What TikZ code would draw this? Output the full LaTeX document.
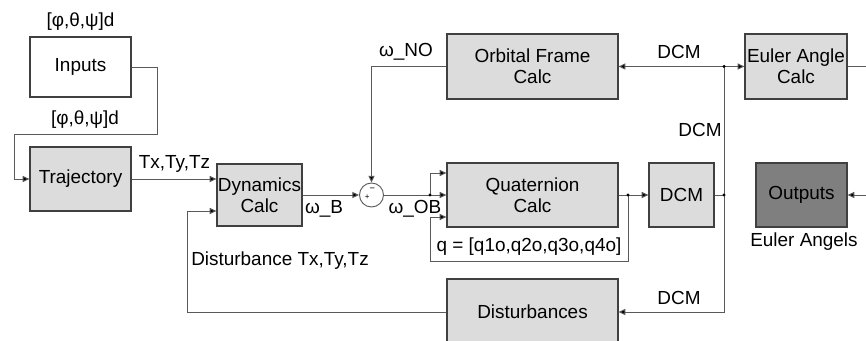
\documentclass[tikz,border=0pt]{standalone}
\usepackage{fontspec}
\setmainfont{Liberation Sans}
\usetikzlibrary{arrows.meta,shadows}
\definecolor{boxgray}{HTML}{DCDCDC}
\definecolor{outgray}{HTML}{7F7F7F}
\definecolor{linegray}{HTML}{5A5A5A}
\definecolor{bordergray}{HTML}{404040}
\begin{document}
\begin{tikzpicture}[x=0.75pt,y=-0.75pt,
  blk/.style={draw=bordergray, line width=0.9pt, fill=boxgray, inner sep=0pt, align=center,
    font=\fontsize{14.2}{15.5}\selectfont,
    drop shadow={shadow xshift=0.9pt,shadow yshift=-0.9pt,fill=black!45,opacity=1}},
  sz/.style 2 args={minimum width=#1*0.75pt, minimum height=#2*0.75pt},
  wire/.style={draw=linegray, line width=0.7pt},
  arr/.style={wire, -{Triangle[length=5pt,width=4.5pt,fill=black]}},
  lbl/.style={font=\fontsize{14.2}{15.5}\selectfont, inner sep=0pt},
  jdot/.style={circle, fill=black, inner sep=0pt, minimum size=2.6pt}
]
\useasboundingbox (0,0) rectangle (866,341);
\clip (0,0) rectangle (866,341);
\fill[white] (0,0) rectangle (866,341);

% blocks
\node[blk, fill=white, sz={101}{60}] (inputs) at (80.5,67) {Inputs};
\node[blk, sz={101}{64}] (traj) at (80.5,179) {Trajectory};
\node[blk, sz={85}{62}] (dyn) at (259.5,195) {Dynamics\\Calc};
\node[circle, draw=linegray, line width=0.7pt, fill=white, minimum size=18pt, inner sep=0pt] (sum) at (371.5,195) {};
\node[blk, sz={171}{65}] (orb) at (532.5,66.5) {Orbital Frame\\Calc};
\node[blk, sz={171}{64}] (quat) at (532.5,195) {Quaternion\\Calc};
\node[blk, sz={65}{64}] (dcm) at (681.5,195) {DCM};
\node[blk, sz={102}{65}] (euler) at (796,66.5) {Euler Angle\\Calc};
\node[blk, fill=outgray, sz={91}{64}] (outp) at (801.5,195) {Outputs};
\node[blk, sz={171}{66}] (dist) at (532.5,312) {Disturbances};

% sum signs
\node[inner sep=0pt, font=\fontsize{6}{6}\selectfont] (sp) at (367.3,197.5) {+};
\node[inner sep=0pt, font=\fontsize{7}{7}\selectfont] (sm) at (372.3,189.5) {−};

% junctions
\coordinate (j1) at (430,195);
\coordinate (j2) at (628,195);
\coordinate (j3) at (724,195);
\coordinate (j4) at (724,66.5);
\coordinate (e1) at (875,66.5);
\coordinate (e2) at (875,195);

% wires
\draw[arr] (inputs.east) -- ++(26,0) |- (14,134) |- (traj.west);
\draw[arr] (traj.east) -- (traj.east -| dyn.west);
\draw[arr] (dyn.east) -- (sum.west);
\draw[arr] (orb.west) -| (sum.north);
\draw[arr] (sum.east) -- (quat.west);
\draw[arr] (j1) |- (quat.west |- 0,173);
\draw[arr] (quat.east) -- (dcm.west);
\draw[arr] (j2) |- (430,261) |- (quat.west |- 0,217);
\draw[wire] (dcm.east) -- (j3);
\draw[arr] (j4) |- (dist.east);
\draw[arr] (j4) -- (orb.east);
\draw[arr] (j4) -- (euler.west);
\draw[wire] (euler.east) -- (e1);
\draw[arr] (e2) -- (outp.east);
\draw[arr] (dist.west) -| (187,211) -- (dyn.west |- 0,211);

\node[jdot] at (j1) {};
\node[jdot] at (j2) {};
\node[jdot] at (j3) {};
\node[jdot] at (j4) {};

% labels
\node[lbl] (l1) at (80.5,22) {[φ,θ,ψ]d};
\node[lbl] (l2) at (85,120) {[φ,θ,ψ]d};
\node[lbl] (l3) at (174.5,164) {Tx,Ty,Tz};
\node[lbl] (l4) at (324,209) {ω\_B};
\node[lbl] (l5) at (406,52) {ω\_NO};
\node[lbl] (l6) at (415,209) {ω\_OB};
\node[lbl] (l7) at (280,261) {Disturbance Tx,Ty,Tz};
\node[lbl] (l8) at (529,247) {q = [q1o,q2o,q3o,q4o]};
\node[lbl] (l9) at (679,52) {DCM};
\node[lbl] (l10) at (700,130) {DCM};
\node[lbl] (l11) at (679,298) {DCM};
\node[lbl] (l12) at (804,242) {Euler Angels};
\end{tikzpicture}
\end{document}
